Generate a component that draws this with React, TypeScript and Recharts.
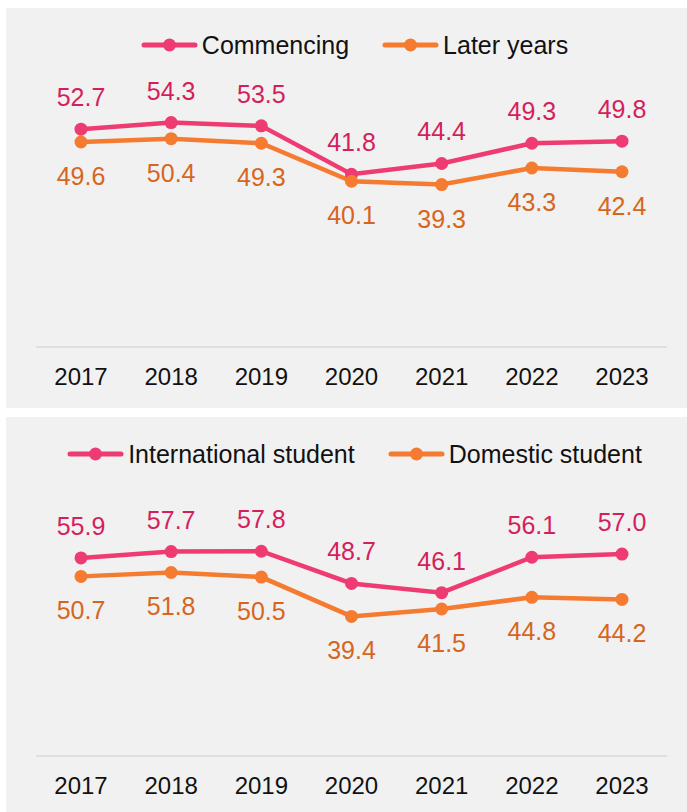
import { LineChart, Line, XAxis, YAxis, Legend, LabelList } from 'recharts';

const years = ['2017', '2018', '2019', '2020', '2021', '2022', '2023'];
const commencing = [52.7, 54.3, 53.5, 41.8, 44.4, 49.3, 49.8];
const laterYears = [49.6, 50.4, 49.3, 40.1, 39.3, 43.3, 42.4];
const international = [55.9, 57.7, 57.8, 48.7, 46.1, 56.1, 57.0];
const domestic = [50.7, 51.8, 50.5, 39.4, 41.5, 44.8, 44.2];

const PINK = '#EE3B72';
const PINK_TEXT = '#D41F5C';
const ORANGE = '#F47B2F';
const ORANGE_TEXT = '#D6661E';
const FONT = '"Liberation Sans", Arial, sans-serif';

const LEGEND_H = 30;

function makeLabel(color: string, above: boolean) {
  return (props: any) => {
    const { x, y, value } = props;
    return (
      <text x={x} y={above ? y - 23 : y + 43} textAnchor="middle" fill={color} fontSize={25} fontFamily={FONT}>
        {Number(value).toFixed(1)}
      </text>
    );
  };
}

function LegendIcon({ color }: { color: string }) {
  return (
    <svg width={57} height={16} style={{ display: 'block' }}>
      <line x1={3} y1={8} x2={54} y2={8} stroke={color} strokeWidth={5} strokeLinecap="round" />
      <circle cx={28.5} cy={8} r={6.5} fill={color} />
    </svg>
  );
}

interface PanelProps {
  top: number;
  a: number[];
  b: number[];
  aName: string;
  bName: string;
  yMax: number;
}

function Panel({ top, a, b, aName, bName, yMax }: PanelProps) {
  const data = years.map((y, i) => ({ year: y, a: a[i], b: b[i] }));
  return (
    <div style={{ position: 'absolute', left: 6, top, width: 681, height: 400, background: '#f1f1f1' }}>
      <LineChart width={681} height={400} data={data} margin={{ top: 91 - LEGEND_H, right: 20, bottom: 31, left: 30 }}>
        <XAxis
          dataKey="year"
          padding={{ left: 45, right: 45 }}
          axisLine={{ stroke: '#d9d9d9', strokeWidth: 1.5 }}
          tickLine={false}
          tickMargin={15}
          tick={{ fontSize: 24, fill: '#111', fontFamily: FONT }}
          interval={0}
        />
        <YAxis hide domain={[0, yMax]} />
        <Legend
          verticalAlign="top"
          wrapperStyle={{ top: 22 }}
          content={() => (
            <div
              style={{
                height: LEGEND_H,
                display: 'flex',
                justifyContent: 'center',
                alignItems: 'center',
                gap: 33,
                paddingLeft: 6,
                fontFamily: FONT,
                fontSize: 25,
                color: '#111',
              }}
            >
              {[
                { name: aName, color: PINK },
                { name: bName, color: ORANGE },
              ].map((it) => (
                <div key={it.name} style={{ display: 'flex', alignItems: 'center', gap: 4 }}>
                  <LegendIcon color={it.color} />
                  <span>{it.name}</span>
                </div>
              ))}
            </div>
          )}
        />
        <Line
          dataKey="a"
          name={aName}
          stroke={PINK}
          strokeWidth={4.5}
          dot={{ r: 6.5, fill: PINK, stroke: 'none' }}
          isAnimationActive={false}
        >
          <LabelList dataKey="a" content={makeLabel(PINK_TEXT, true)} />
        </Line>
        <Line
          dataKey="b"
          name={bName}
          stroke={ORANGE}
          strokeWidth={4.5}
          dot={{ r: 6.5, fill: ORANGE, stroke: 'none' }}
          isAnimationActive={false}
        >
          <LabelList dataKey="b" content={makeLabel(ORANGE_TEXT, false)} />
        </Line>
      </LineChart>
    </div>
  );
}

export default function App() {
  return (
    <div style={{ position: 'absolute', left: 0, top: 0, width: 687, height: 812, overflow: 'hidden', background: '#fff' }}>
      <Panel top={8} a={commencing} b={laterYears} aName="Commencing" bName="Later years" yMax={60} />
      <Panel top={417} a={international} b={domestic} aName="International student" bName="Domestic student" yMax={70} />
    </div>
  );
}
